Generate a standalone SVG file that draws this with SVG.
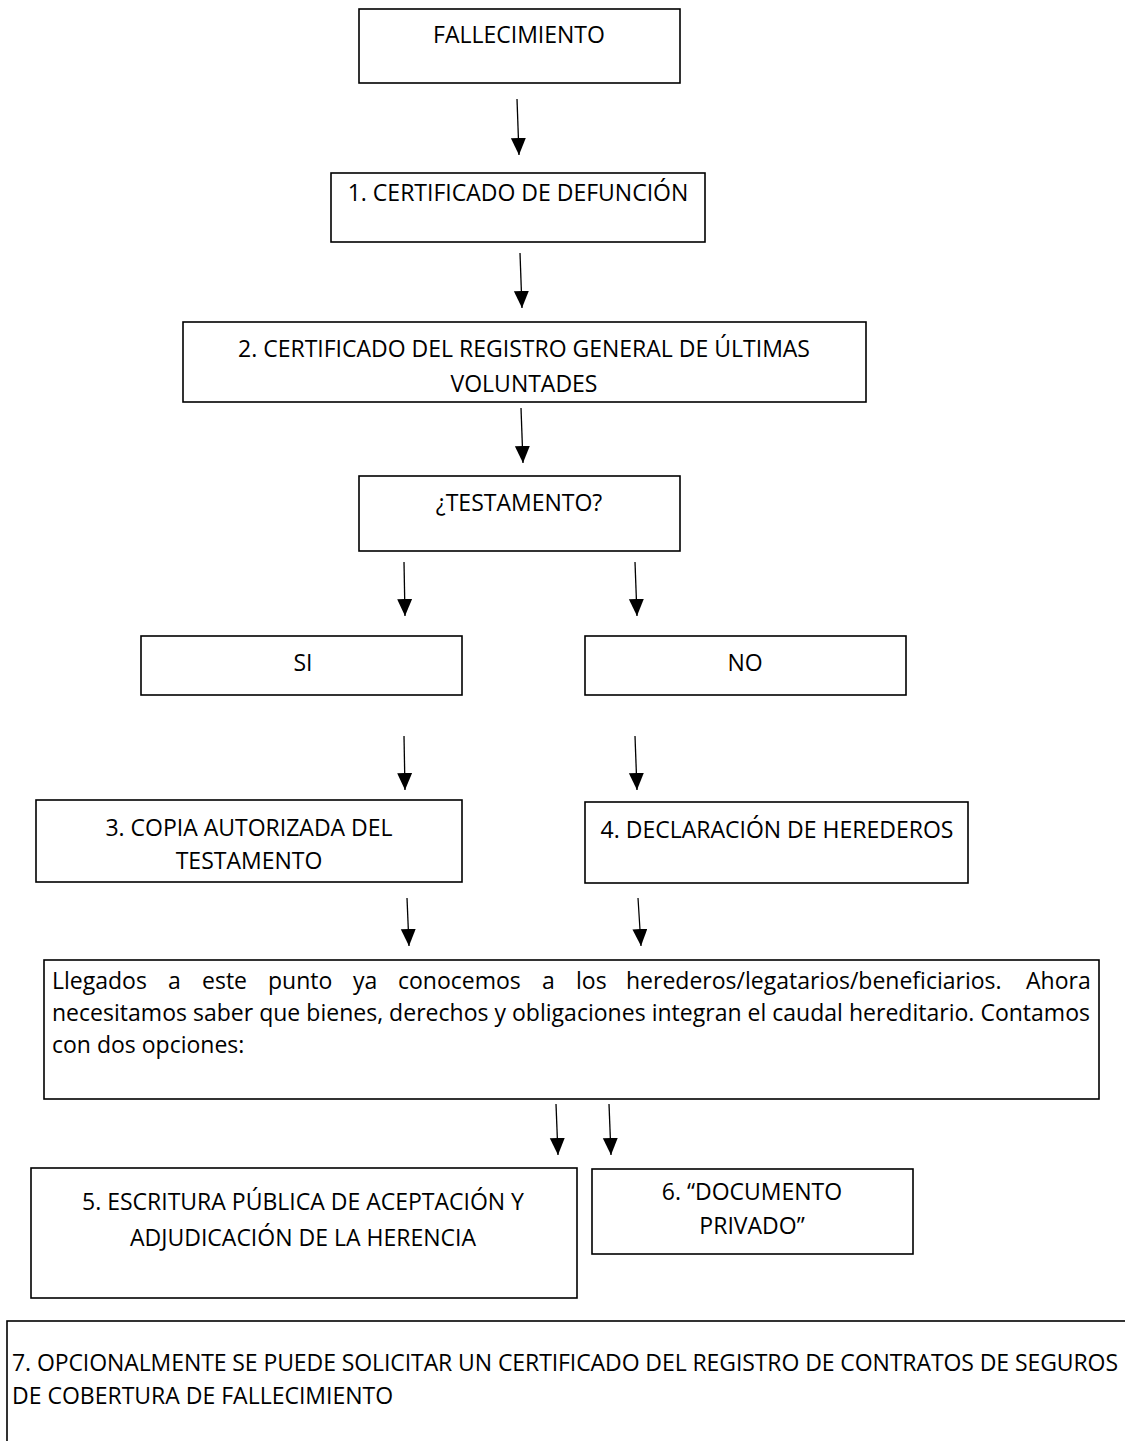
<svg xmlns="http://www.w3.org/2000/svg" width="1125" height="1441" viewBox="0 0 1125 1441">
<style>
  .box{fill:#fff;stroke:#000;stroke-width:1.6}
  .t{font-family:"Open Sans","Liberation Sans",sans-serif;font-size:23px;fill:#000}
  .c{text-anchor:middle}
  .ln{stroke:#000;stroke-width:1.3;fill:none;marker-end:url(#ah)}
</style>
<defs>
  <marker id="ah" markerUnits="userSpaceOnUse" markerWidth="18" markerHeight="16" refX="17" refY="7.5" orient="auto">
    <path d="M0,0 L17,7.5 L0,15 Z" fill="#000"/>
  </marker>
</defs>
<rect width="1125" height="1441" fill="#fff"/>

<g id="connectors">
  <line class="ln" x1="517" y1="99" x2="519" y2="155"/>
  <line class="ln" x1="520" y1="253" x2="522" y2="308"/>
  <line class="ln" x1="521" y1="408" x2="523" y2="463"/>
  <line class="ln" x1="404" y1="562" x2="405" y2="616"/>
  <line class="ln" x1="635" y1="562" x2="637" y2="616"/>
  <line class="ln" x1="404" y1="736" x2="405" y2="790"/>
  <line class="ln" x1="635" y1="736" x2="637" y2="790"/>
  <line class="ln" x1="407" y1="898" x2="409" y2="946"/>
  <line class="ln" x1="638" y1="898" x2="641" y2="946"/>
  <line class="ln" x1="556" y1="1104" x2="558" y2="1155"/>
  <line class="ln" x1="609" y1="1104" x2="611" y2="1155"/>
</g>

<g id="fallecimiento">
  <rect class="box" x="359" y="9" width="321" height="74"/>
  <text class="t c" x="519" y="43">FALLECIMIENTO</text>
</g>

<g id="certificado-defuncion">
  <rect class="box" x="331" y="173" width="374" height="69"/>
  <text class="t c" x="518" y="201">1. CERTIFICADO DE DEFUNCIÓN</text>
</g>

<g id="ultimas-voluntades">
  <rect class="box" x="183" y="322" width="683" height="80"/>
  <text class="t c" x="524" y="357">2. CERTIFICADO DEL REGISTRO GENERAL DE ÚLTIMAS</text>
  <text class="t c" x="524" y="392">VOLUNTADES</text>
</g>

<g id="testamento">
  <rect class="box" x="359" y="476" width="321" height="75"/>
  <text class="t c" x="519" y="511">¿TESTAMENTO?</text>
</g>

<g id="si">
  <rect class="box" x="141" y="636" width="321" height="59"/>
  <text class="t c" x="303" y="671">SI</text>
</g>

<g id="no">
  <rect class="box" x="585" y="636" width="321" height="59"/>
  <text class="t c" x="745" y="671">NO</text>
</g>

<g id="copia-testamento">
  <rect class="box" x="36" y="800" width="426" height="82"/>
  <text class="t c" x="249" y="836">3. COPIA AUTORIZADA DEL</text>
  <text class="t c" x="249" y="869">TESTAMENTO</text>
</g>

<g id="declaracion-herederos">
  <rect class="box" x="585" y="802" width="383" height="81"/>
  <text class="t c" x="777" y="838">4. DECLARACIÓN DE HEREDEROS</text>
</g>

<g id="caudal">
  <rect class="box" x="44" y="960" width="1055" height="139"/>
  <text class="t" y="989"><tspan x="52">Llegados</tspan><tspan x="168">a</tspan><tspan x="202">este</tspan><tspan x="268">punto</tspan><tspan x="353">ya</tspan><tspan x="398">conocemos</tspan><tspan x="542">a</tspan><tspan x="576">los</tspan><tspan x="626">herederos/legatarios/beneficiarios.</tspan><tspan x="1026">Ahora</tspan></text>
  <text class="t" x="52" y="1021" textLength="1038" lengthAdjust="spacing">necesitamos saber que bienes, derechos y obligaciones integran el caudal hereditario. Contamos</text>
  <text class="t" x="52" y="1053">con dos opciones:</text>
</g>

<g id="escritura-publica">
  <rect class="box" x="31" y="1168" width="546" height="130"/>
  <text class="t c" x="303" y="1210">5. ESCRITURA PÚBLICA DE ACEPTACIÓN Y</text>
  <text class="t c" x="303" y="1246">ADJUDICACIÓN DE LA HERENCIA</text>
</g>

<g id="documento-privado">
  <rect class="box" x="592" y="1169" width="321" height="85"/>
  <text class="t c" x="752" y="1200">6. “DOCUMENTO</text>
  <text class="t c" x="752" y="1234">PRIVADO”</text>
</g>

<g id="registro-seguros">
  <rect class="box" x="7" y="1321" width="1140" height="150"/>
  <text class="t" x="12" y="1371" textLength="1106" lengthAdjust="spacing">7. OPCIONALMENTE SE PUEDE SOLICITAR UN CERTIFICADO DEL REGISTRO DE CONTRATOS DE SEGUROS</text>
  <text class="t" x="12" y="1404">DE COBERTURA DE FALLECIMIENTO</text>
</g>
</svg>
